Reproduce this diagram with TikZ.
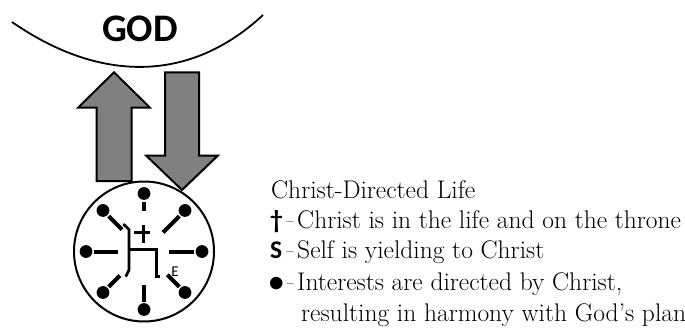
\documentclass[tikz,border=0pt]{standalone}
\usepackage{fontspec}
\usepackage{graphicx}
\newfontfamily\godfont{Carlito}
\usetikzlibrary{positioning}
\definecolor{arrowgray}{RGB}{128,128,128}
\newcommand\legsym[1]{\makebox[16.5pt][l]{#1}\scalebox{0.6}[1]{--}\hspace{3.5pt}}

\begin{document}
\begin{tikzpicture}[x=1pt, y=-1pt, every node/.style={inner sep=0pt}]
  \tikzset{
    bigarrow/.style={draw, line width=2pt, fill=arrowgray, line join=miter},
    spoke/.style={line width=4pt},
    throne/.style={line width=2.7pt},
    legend/.style={anchor=base west, font=\fontsize{25.5}{30}\selectfont}
  }
  \useasboundingbox (0,0) rectangle (685,329);

  % God above
  \draw[line width=1.8pt] (12,22) .. controls (100,83) and (190,83) .. (263,15);
  \node[font=\godfont\bfseries\fontsize{39}{40}\selectfont] (god) at (140,29) {GOD};

  % up and down arrows
  \draw[bigarrow] (96.5,181) -- (96.5,107.7) -- (78,107.7) -- (114,72.3)
    -- (150,107.7) -- (131.5,107.7) -- (131.5,181) -- cycle;
  \draw[bigarrow] (165,72.3) -- (199,72.3) -- (199,155.5) -- (218,155.5)
    -- (182,190) -- (146,155.5) -- (165,155.5) -- cycle;

  % the life
  \node[circle, draw, line width=2pt, minimum size=140pt] (life) at (144,251.5) {};
  \foreach \a/\r in {-90/41, -45/27, 0/25, 45/33, 90/33, 135/34, 180/26, 225/31} {
    \fill ([shift={(\a:58)}]life.center) circle (6.4);
    \draw[spoke] ([shift={(\a:\r)}]life.center) -- ([shift={(\a:50)}]life.center);
  }

  % throne, cross and self
  \draw[throne] (123.3,224) -- (129,229.5) -- (129,270) -- (125.7,276.7);
  \draw[throne] (129,249.3) -- (156.7,249.3) -- (156.7,276.7) -- (160,276.7);
  \draw[line width=3.3pt] (143.3,225) -- (143.3,243.3) (134.3,232.7) -- (150,232.7);
  \node[font=\godfont\fontsize{15}{15}\selectfont] (ego) at (175,272) {E};

  % legend
  \node[legend] (title) at (271,198) {Christ-Directed Life};
  \node[legend] (lchrist) at (270,228.5) {\legsym{\godfont\bfseries †}Christ is in the life and on the throne};
  \node[legend] (lself) at (270,258.5) {\legsym{\godfont\bfseries S}Self is yielding to Christ};
  \node[legend] (linterest) at (270,290) {\legsym{\makebox[12pt][c]{\raisebox{-8pt}{\scalebox{2.2}{\textbullet}}}}Interests are directed by Christ,};
  \node[legend] (lresult) at (301,321.5) {resulting in harmony with God's plan};
\end{tikzpicture}
\end{document}
